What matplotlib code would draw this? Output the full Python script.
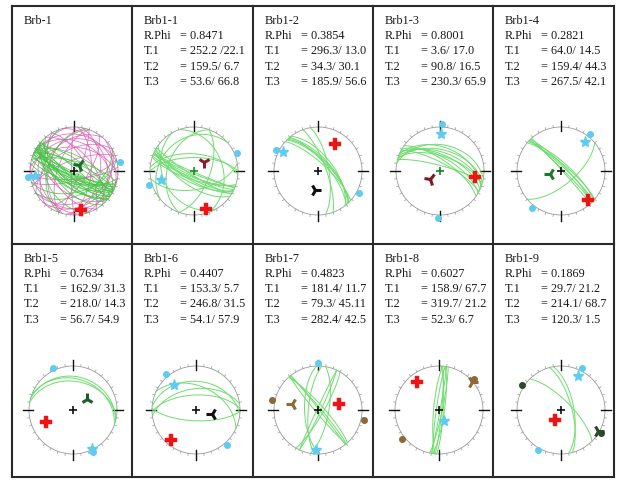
import numpy as np
import matplotlib.pyplot as plt
from matplotlib.markers import MarkerStyle
from matplotlib.transforms import Affine2D

# panel texts
names = ['Brb-1', 'Brb1-1', 'Brb1-2', 'Brb1-3', 'Brb1-4',
         'Brb1-5', 'Brb1-6', 'Brb1-7', 'Brb1-8', 'Brb1-9']
rphi_labels = ['', '0.8471', '0.3854', '0.8001', '0.2821',
               '0.7634', '0.4407', '0.4823', '0.6027', '0.1869']
t1_labels = ['', '252.2 /22.1', '296.3/ 13.0', '3.6/ 17.0', '64.0/ 14.5',
             '162.9/ 31.3', '153.3/ 5.7', '181.4/ 11.7', '158.9/ 67.7', '29.7/ 21.2']
t2_labels = ['', '159.5/ 6.7', '34.3/ 30.1', '90.8/ 16.5', '159.4/ 44.3',
             '218.0/ 14.3', '246.8/ 31.5', '79.3/ 45.11', '319.7/ 21.2', '214.1/ 68.7']
t3_labels = ['', '53.6/ 66.8', '185.9/ 56.6', '230.3/ 65.9', '267.5/ 42.1',
             '56.7/ 54.9', '54.1/ 57.9', '282.4/ 42.5', '52.3/ 6.7', '120.3/ 1.5']

# fault planes (strike, dip) per panel, read from the nets
planes = [
    [],
    [(115, 80), (118, 75), (112, 85), (120, 72), (110, 78), (122, 82), (116, 68), (108, 74),
     (125, 62), (113, 88), (270, 65), (275, 58), (150, 30), (340, 35), (80, 55), (20, 60),
     (200, 40), (230, 25)],
    [(315, 70), (318, 66), (320, 72), (312, 75), (322, 62), (316, 68), (350, 70), (340, 75)],
    [(290, 55), (295, 60), (285, 50), (300, 65), (292, 45), (288, 62), (305, 70), (280, 40),
     (298, 75), (285, 80)],
    [(313, 82), (315, 86), (310, 78), (318, 88), (312, 75), (316, 80), (50, 65)],
    [(285, 25), (280, 35), (290, 30)],
    [(275, 35), (268, 62), (92, 70), (295, 45), (262, 50)],
    [(320, 85), (318, 80), (140, 85), (322, 88), (25, 85), (205, 88), (10, 70), (30, 80),
     (185, 72), (178, 65)],
    [(5, 85), (8, 80), (188, 85), (10, 88), (3, 82), (185, 80), (12, 84)],
    [(315, 72), (350, 66), (345, 70)],
]
# all-data panel: two populations
brb_green_strike = [115, 120, 112, 125, 118, 108, 130, 122, 116, 128, 110, 135, 119, 124, 105,
                    300, 295, 310, 305, 298, 140, 60, 75, 200, 160, 100, 285, 132, 126, 114]
brb_green_dip = [80, 75, 85, 70, 78, 82, 65, 72, 88, 60, 76, 68, 84, 58, 70,
                 80, 75, 85, 70, 62, 55, 45, 50, 40, 35, 66, 72, 78, 83, 64]
brb_pink_strike = [10, 35, 60, 85, 150, 170, 200, 220, 250, 275, 320, 345, 20, 100, 180,
                   240, 300, 330, 45, 130, 260, 5, 75, 195, 290]
brb_pink_dip = [40, 65, 30, 75, 50, 20, 60, 35, 70, 45, 55, 25, 80, 15, 85,
                50, 35, 65, 22, 48, 28, 58, 72, 42, 18]

# stress axes markers (trend, plunge)
tri_axis = [(40, 76), (46, 65), (188, 54), (229, 66), (253, 68),
            (53, 57), (104, 59), (284, 40), (50, 3), (120, 3)]
tri_colors = ['#1f6a2a', '#8a1c2c', '#111111', '#7a1a24', '#1a7a2a',
              '#1e5a2a', '#111111', '#8b6a35', '#8b6a35', '#2a4a2a']
tri_rot = [20, 0, 90, 20, -90, 60, 30, -90, 90, -30]
red_axis = [(170, 10), (162, 11), (32, 29), (99, 21), (137, 12),
            (246, 33), (219, 12), (75, 49), (322, 19), (213, 68)]
cyan_axis = [(262, 12), (254, 24), (298, 11), (2, 16), (39, 15),
             (154, 2), (319, 25), (183, 10), (156, 68), (26, 15)]
# horizontal axis directions on the primitive (trend, colour)
edge_marks = [
    [(79, '#5ecbf0'), (262, '#5ecbf0')],
    [(67, '#5ecbf0'), (253, '#5ecbf0')],
    [(297, '#5ecbf0'), (118, '#5ecbf0')],
    [(3, '#5ecbf0'), (183, '#5ecbf0')],
    [(38, '#5ecbf0'), (218, '#5ecbf0')],
    [(335, '#5ecbf0'), (155, '#5ecbf0')],
    [(320, '#5ecbf0'), (139, '#5ecbf0')],
    [(0, '#5ecbf0'), (282, '#8b6a35'), (102, '#8b6a35')],
    [(48, '#8b6a35'), (232, '#8b6a35')],
    [(27, '#5ecbf0'), (210, '#5ecbf0'), (303, '#2a4a2a'), (120, '#2a4a2a')],
]
center_colors = ['#111111', '#1f8a2a', '#111111', '#1f7a2a', '#111111',
                 '#111111', '#111111', '#111111', '#111111', '#111111']

# layout (pixels)
col_x = [12, 132, 253, 373, 493, 614]
row_y = [7, 245, 478]
net_cx = [74, 194, 318, 440, 561, 73, 196, 318, 439, 561]
net_cy = [172] * 5 + [411] * 5
net_r = 44
text_dy = [0, 15, 30, 45.5, 61]


def project(trend, plunge):
    # lower hemisphere equal area
    t = np.radians(trend)
    p = np.radians(plunge)
    r = np.sqrt(2) * np.sin((np.pi / 2 - p) / 2)
    return r * np.sin(t), r * np.cos(t)


def great_circle(strike, dip):
    s = np.radians(strike)
    d = np.radians(dip)
    a = np.linspace(0, np.pi, 181)
    sv = np.array([np.sin(s), np.cos(s), 0.0])
    dv = np.array([np.cos(d) * np.sin(s + np.pi / 2), np.cos(d) * np.cos(s + np.pi / 2), np.sin(d)])
    v = np.outer(np.cos(a), sv) + np.outer(np.sin(a), dv)
    plunge = np.degrees(np.arcsin(np.clip(v[:, 2], -1, 1)))
    trend = np.degrees(np.arctan2(v[:, 0], v[:, 1]))
    return project(trend, plunge)


def draw_net(ax):
    th = np.linspace(0, 2 * np.pi, 361)
    ax.plot(np.cos(th), np.sin(th), color='#9a9a9a', lw=0.6)
    for az in range(0, 360, 10):
        a = np.radians(az)
        ax.plot([np.sin(a), 1.05 * np.sin(a)], [np.cos(a), 1.05 * np.cos(a)],
                color='#9a9a9a', lw=0.5)
    for az in [0, 90, 180, 270]:
        a = np.radians(az)
        ax.plot([0.9 * np.sin(a), 1.13 * np.sin(a)], [0.9 * np.cos(a), 1.13 * np.cos(a)],
                color='#111111', lw=1.0)


fig = plt.figure(figsize=(6.24, 4.85), dpi=100)
bg = fig.add_axes([0, 0, 1, 1])
bg.set_xlim(0, 624)
bg.set_ylim(485, 0)
bg.axis('off')

for x in col_x:
    bg.plot([x, x], [row_y[0], row_y[-1]], color='#2a2a2a', lw=1.5)
for y in row_y:
    bg.plot([col_x[0], col_x[-1]], [y, y], color='#2a2a2a', lw=1.5)

font = dict(family='Liberation Serif', fontsize=8.8, color='#1a1a1a', va='center')
for i in range(10):
    left = col_x[i % 5]
    top = row_y[i // 5] + 14
    bg.text(left + 12, top + text_dy[0], names[i], **font)
    if rphi_labels[i]:
        rows = [('R.Phi', rphi_labels[i]), ('T.1', t1_labels[i]),
                ('T.2', t2_labels[i]), ('T.3', t3_labels[i])]
        for k, (lab, val) in enumerate(rows):
            bg.text(left + 12, top + text_dy[k + 1], lab, **font)
            bg.text(left + 48, top + text_dy[k + 1], '= ' + val, **font)

H = net_r * 1.2
for i in range(10):
    cx, cy = net_cx[i], net_cy[i]
    ax = fig.add_axes([(cx - H) / 624, (485 - cy - H) / 485, 2 * H / 624, 2 * H / 485])
    ax.set_xlim(-1.2, 1.2)
    ax.set_ylim(-1.2, 1.2)
    ax.axis('off')
    draw_net(ax)

    if i == 0:
        for s, d in zip(brb_pink_strike, brb_pink_dip):
            gx, gy = great_circle(s, d)
            ax.plot(gx, gy, color='#e060b8', lw=0.6, alpha=0.85)
        for s, d in zip(brb_green_strike, brb_green_dip):
            gx, gy = great_circle(s, d)
            ax.plot(gx, gy, color='#3cc83c', lw=0.6, alpha=0.85)
    for s, d in planes[i]:
        gx, gy = great_circle(s, d)
        ax.plot(gx, gy, color='#6fdc6f', lw=0.7)

    ax.plot([0], [0], marker='+', ms=6, mew=1.2, color=center_colors[i])

    for az, col in edge_marks[i]:
        ex, ey = project(az, 0)
        ax.plot([ex * 1.06], [ey * 1.06], marker='o', ms=4, color=col, mec=col)

    x, y = project(*cyan_axis[i])
    ax.plot([x], [y], marker='*', ms=8, color='#5ecbf0', mec='#5ecbf0')
    x, y = project(*red_axis[i])
    ax.plot([x], [y], marker='P', ms=8, color='#ee1414', mec='#ee1414', mew=0.3)
    x, y = project(*tri_axis[i])
    tri = MarkerStyle('1', transform=Affine2D().rotate_deg(tri_rot[i]))
    ax.plot([x], [y], marker=tri, ms=9, color=tri_colors[i], mew=2.2)

fig.savefig('out.png', dpi=100)
